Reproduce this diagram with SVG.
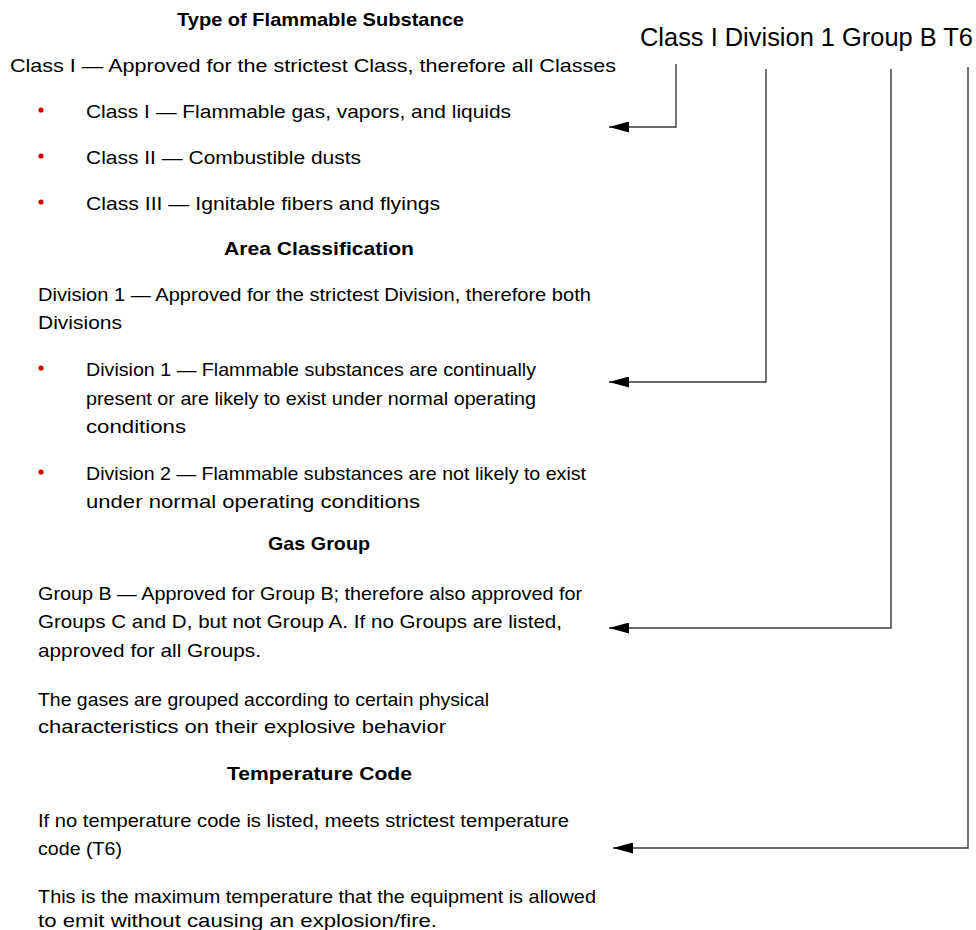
<svg xmlns="http://www.w3.org/2000/svg" width="976" height="930" viewBox="0 0 976 930">
<style>
text{font-family:"Liberation Sans",Arial,sans-serif;fill:#000}
.b{font-size:19px}
.h{font-size:19px;font-weight:bold}
.t{font-size:25px}
.bul{fill:#d00000}
.c{fill:none;stroke:#3a3a3a;stroke-width:1.4}
</style>
<defs>
<marker id="ah" markerWidth="20" markerHeight="11" refX="20" refY="5.5" orient="auto" markerUnits="userSpaceOnUse">
<path d="M0,0 L20,5.5 L0,11 Z" fill="#000"/>
</marker>
</defs>
<rect width="976" height="930" fill="#fff"/>
<g id="header">
<text class="t" x="640" y="46" textLength="333" lengthAdjust="spacingAndGlyphs">Class I Division 1 Group B T6</text>
</g>
<g id="class-section">
<text class="h" x="177" y="26" textLength="287" lengthAdjust="spacingAndGlyphs">Type of Flammable Substance</text>
<text class="b" x="10" y="72" textLength="606" lengthAdjust="spacingAndGlyphs">Class I — Approved for the strictest Class, therefore all Classes</text>
<circle class="bul" cx="41" cy="110" r="2.6"/>
<text class="b" x="86" y="118" textLength="425" lengthAdjust="spacingAndGlyphs">Class I — Flammable gas, vapors, and liquids</text>
<circle class="bul" cx="41" cy="156" r="2.6"/>
<text class="b" x="86" y="164" textLength="275" lengthAdjust="spacingAndGlyphs">Class II — Combustible dusts</text>
<circle class="bul" cx="41" cy="202" r="2.6"/>
<text class="b" x="86" y="210" textLength="354" lengthAdjust="spacingAndGlyphs">Class III — Ignitable fibers and flyings</text>
</g>
<g id="division-section">
<text class="h" x="224" y="255" textLength="190" lengthAdjust="spacingAndGlyphs">Area Classification</text>
<text class="b" x="38" y="301" textLength="553" lengthAdjust="spacingAndGlyphs">Division 1 — Approved for the strictest Division, therefore both</text>
<text class="b" x="38" y="329" textLength="84" lengthAdjust="spacingAndGlyphs">Divisions</text>
<circle class="bul" cx="41" cy="368" r="2.6"/>
<text class="b" x="86" y="376" textLength="450" lengthAdjust="spacingAndGlyphs">Division 1 — Flammable substances are continually</text>
<text class="b" x="86" y="405" textLength="450" lengthAdjust="spacingAndGlyphs">present or are likely to exist under normal operating</text>
<text class="b" x="86" y="433" textLength="100" lengthAdjust="spacingAndGlyphs">conditions</text>
<circle class="bul" cx="41" cy="472" r="2.6"/>
<text class="b" x="86" y="480" textLength="500" lengthAdjust="spacingAndGlyphs">Division 2 — Flammable substances are not likely to exist</text>
<text class="b" x="86" y="508" textLength="334" lengthAdjust="spacingAndGlyphs">under normal operating conditions</text>
</g>
<g id="group-section">
<text class="h" x="268" y="550" textLength="102" lengthAdjust="spacingAndGlyphs">Gas Group</text>
<text class="b" x="38" y="600" textLength="544" lengthAdjust="spacingAndGlyphs">Group B — Approved for Group B; therefore also approved for</text>
<text class="b" x="38" y="628" textLength="524" lengthAdjust="spacingAndGlyphs">Groups C and D, but not Group A. If no Groups are listed,</text>
<text class="b" x="38" y="657" textLength="223" lengthAdjust="spacingAndGlyphs">approved for all Groups.</text>
<text class="b" x="38" y="706" textLength="451" lengthAdjust="spacingAndGlyphs">The gases are grouped according to certain physical</text>
<text class="b" x="38" y="733" textLength="408" lengthAdjust="spacingAndGlyphs">characteristics on their explosive behavior</text>
</g>
<g id="temperature-section">
<text class="h" x="227" y="780" textLength="185" lengthAdjust="spacingAndGlyphs">Temperature Code</text>
<text class="b" x="38" y="827" textLength="531" lengthAdjust="spacingAndGlyphs">If no temperature code is listed, meets strictest temperature</text>
<text class="b" x="38" y="855" textLength="84" lengthAdjust="spacingAndGlyphs">code (T6)</text>
<text class="b" x="38" y="903" textLength="558" lengthAdjust="spacingAndGlyphs">This is the maximum temperature that the equipment is allowed</text>
<text class="b" x="38" y="927" textLength="399" lengthAdjust="spacingAndGlyphs">to emit without causing an explosion/fire.</text>
</g>
<g id="connectors">
<path class="c" d="M676,64 V127 H609" marker-end="url(#ah)"/>
<path class="c" d="M766,69 V382 H609" marker-end="url(#ah)"/>
<path class="c" d="M891,69 V628 H609" marker-end="url(#ah)"/>
<path class="c" d="M968,67 V848 H613" marker-end="url(#ah)"/>
</g>
</svg>
